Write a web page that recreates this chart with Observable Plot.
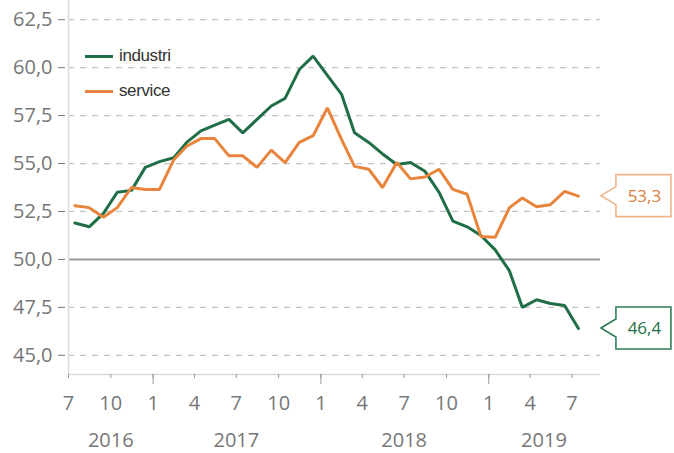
<!DOCTYPE html>
<html><head><meta charset="utf-8">
<script src="https://cdn.jsdelivr.net/npm/d3@7"></script>
<script src="https://cdn.jsdelivr.net/npm/@observablehq/plot@0.6"></script>
<style>
body{margin:0;background:#fff;font-family:"Open Sans",sans-serif}
#wrap{position:relative;width:674px;height:453px}
.lg{position:absolute;left:85px;display:flex;align-items:center;font-family:"Liberation Sans",Arial,sans-serif;font-size:17px;color:#333;letter-spacing:-0.4px}
.lg span.sw{display:inline-block;width:28px;height:3px;margin-right:6px}
</style></head><body><div id="wrap"></div>
<script>
// monthly values, July 2016 .. July 2019
const startMonth = "2016-07";
const industri = [51.9,51.7,52.4,53.5,53.6,54.8,55.1,55.3,56.1,56.7,57.0,57.3,56.6,57.3,58.0,58.4,59.9,60.6,59.6,58.6,56.6,56.1,55.5,54.95,55.05,54.6,53.5,52.0,51.7,51.25,50.5,49.4,47.5,47.9,47.7,47.6,46.4];
const service = [52.8,52.7,52.2,52.7,53.75,53.65,53.65,55.2,55.9,56.3,56.3,55.4,55.4,54.8,55.7,55.05,56.1,56.45,57.9,56.25,54.85,54.7,53.75,55.05,54.2,54.3,54.7,53.65,53.4,51.2,51.15,52.7,53.2,52.75,52.85,53.55,53.3];
const seriesNames = ["industri","service"];
const colors = ["#1f6e46","#e8843c"];
const boxBorders = ["#2f7d55","#f0b488"];
const yTicks = [45,47.5,50,52.5,55,57.5,60,62.5];
const years = ["2016","2017","2018","2019"];
const yearAt = ["2016-10","2017-07","2018-07","2019-05"];
const xStart = "2016-07", xEnd = "2019-09";

const parseM = d3.utcParse("%Y-%m");
const m0 = parseM(startMonth);
const rows = [];
[industri, service].forEach((arr, s) => arr.forEach((v, i) => {
  rows.push({series: seriesNames[s], date: d3.utcDay.offset(d3.utcMonth.offset(m0, i), 14), value: v});
}));
const tickDates = d3.utcMonth.every(3).range(parseM(xStart), d3.utcMonth.offset(parseM("2019-07"), 1));
const janDates = tickDates.filter(d => d.getUTCMonth() === 0);
const yearRows = years.map((y, i) => ({label: y, date: parseM(yearAt[i])}));
const fmt = d => d.toFixed(1).replace(".", ",");

const plot = Plot.plot({
  width: 674, height: 453,
  marginLeft: 68, marginRight: 74, marginTop: 0, marginBottom: 79,
  style: {fontFamily: "'Open Sans', sans-serif", color: "#777", background: "#fff"},
  x: {type: "utc", domain: [parseM(xStart), parseM(xEnd)], label: null},
  y: {domain: [44, 63.5], label: null},
  marks: [
    Plot.gridY(yTicks.filter(t => t !== 50), {stroke: "#c4c4c4", strokeOpacity: 1, strokeDasharray: "6,6", strokeWidth: 1.2}),
    Plot.ruleY([50], {stroke: "#9a9a9a", strokeWidth: 2}),
    Plot.ruleY([44], {stroke: "#dcdcdc", strokeWidth: 1.5}),
    Plot.ruleX([parseM(xStart)], {stroke: "#dcdcdc", strokeWidth: 1.5}),
    Plot.axisY({ticks: yTicks, tickFormat: fmt, tickSize: 7, tickPadding: 6, dx: -3, fontSize: 20, stroke: "#777", fill: "#777", label: null}),
    Plot.axisX({ticks: tickDates, tickFormat: d => d.getUTCMonth() + 1, tickSize: 4, tickPadding: 17, fontSize: 20, stroke: "#999", fill: "#777", label: null}),
    Plot.axisX({ticks: janDates, tickFormat: () => "", tickSize: 10, stroke: "#999", label: null}),
    Plot.text(yearRows, {x: "date", text: "label", frameAnchor: "bottom", dy: 66, fontSize: 20, fill: "#777", lineAnchor: "middle"}),
    Plot.lineY(rows, {x: "date", y: "value", z: "series", stroke: "series", strokeWidth: 3, strokeLinejoin: "miter"})
  ],
  color: {domain: seriesNames, range: colors}
});
document.getElementById("wrap").appendChild(plot);

// end callouts using the plot's scales
const sx = plot.scale("x"), sy = plot.scale("y");
const svg = d3.select(plot);
[industri, service].forEach((arr, s) => {
  const last = arr[arr.length - 1];
  const lastDate = d3.utcDay.offset(d3.utcMonth.offset(m0, arr.length - 1), 14);
  const px = sx.apply(lastDate), py = sy.apply(last);
  const tip = px + 23, left = px + 38, right = px + 93, h = 21;
  const g = svg.append("g");
  g.append("path")
    .attr("d", `M${tip},${py} L${left},${py - 9} L${left},${py - h} L${right},${py - h} L${right},${py + h} L${left},${py + h} L${left},${py + 9} Z`)
    .attr("fill", "#fff").attr("stroke", boxBorders[s]).attr("stroke-width", 1.6);
  g.append("text").attr("x", (left + right) / 2 + 1).attr("y", py).attr("dy", "0.35em")
    .attr("text-anchor", "middle").attr("fill", s === 0 ? colors[0] : "#d9803f")
    .attr("font-size", 17).attr("font-family", "'Open Sans', sans-serif").text(fmt(last));
});

// legend
const wrap = document.getElementById("wrap");
[[57, 0], [92, 1]].forEach(([top, s]) => {
  const d = document.createElement("div");
  d.className = "lg";
  d.style.top = (top - 11) + "px";
  d.innerHTML = `<span class="sw" style="background:${colors[s]}"></span>${seriesNames[s]}`;
  wrap.appendChild(d);
});
</script>
</body></html>
